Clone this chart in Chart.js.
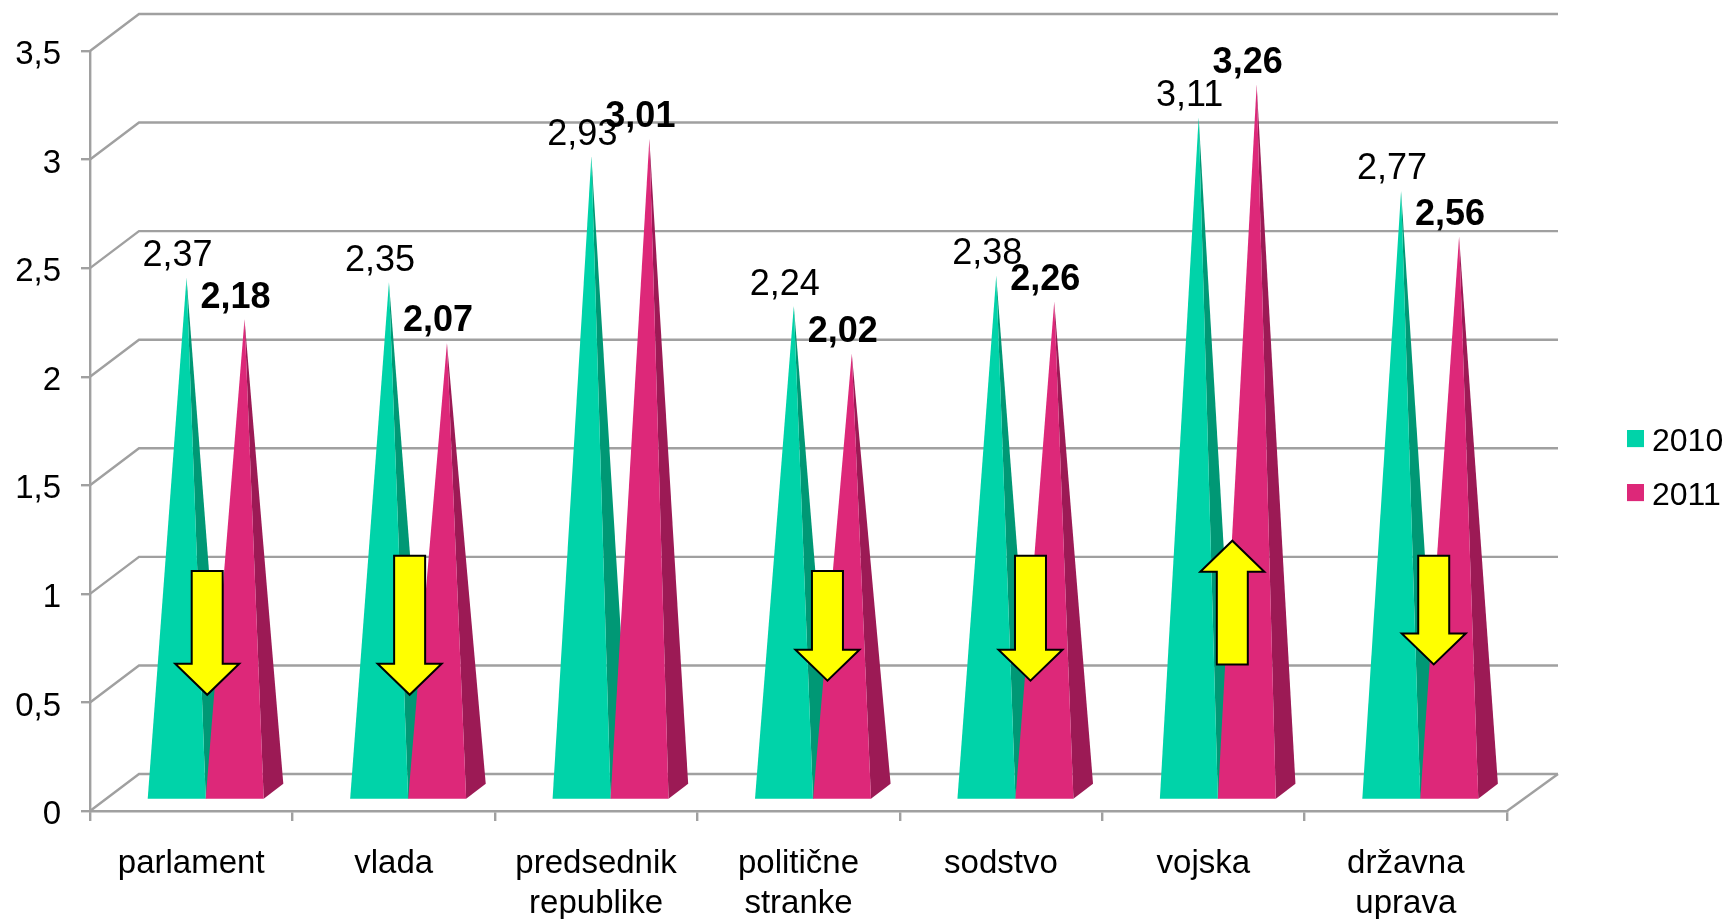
<!DOCTYPE html>
<html><head><meta charset="utf-8">
<style>html,body{margin:0;padding:0;background:#fff;overflow:hidden}canvas{display:block}</style>
<script src="https://cdn.jsdelivr.net/npm/chart.js@4"></script></head>
<body><canvas id="c" width="1728" height="919"></canvas>
<script>
const categories = [["parlament"],["vlada"],["predsednik","republike"],["politične","stranke"],["sodstvo"],["vojska"],["državna","uprava"]];
const values2010 = [2.37,2.35,2.93,2.24,2.38,3.11,2.77];
const values2011 = [2.18,2.07,3.01,2.02,2.26,3.26,2.56];
const seriesNames = ["2010","2011"];
const arrowTail = [1.105,1.175,null,1.105,1.175,0.675,1.175];
const arrowTip  = [0.535,0.535,null,0.6,0.6,1.245,0.675];
const arrowAt   = [0.079,0.079,null,0.143,0.146,0.143,0.138];

const FACE = ["#00d3a9","#dd2879"], SIDE = ["#009875","#9c1a55"];
const GRID = "#a0a0a0", FONT = "'Liberation Sans', Arial, sans-serif";
const DEPTH = {dx:49, dy:-37}, BAR_IN = {dx:14.5, dy:-11}, BAR_D = {dx:19.6, dy:-15};
const fmt = v => String(v).replace(".", ",");

function legendSwatch(color){
  const s = document.createElement("canvas"); s.width = 25; s.height = 25;
  const g = s.getContext("2d"); g.fillStyle = color; g.fillRect(8,0,17,17);
  return s;
}
const poly = (ctx,pts,fill)=>{ctx.beginPath();pts.forEach((p,i)=>i?ctx.lineTo(p[0],p[1]):ctx.moveTo(p[0],p[1]));ctx.closePath();ctx.fillStyle=fill;ctx.fill();};

const scene3d = {
  id:"scene3d",
  beforeLayout(chart){
    const lg = chart.legend;
    if(!lg._w){ const f = lg.fit; lg.fit = function(){ f.call(this); this.width = 221; }; lg._w = true; }
  },
  afterLayout(chart){
    const lg = chart.legend, pad = lg.options.labels.padding;
    lg.left = 1627 - pad; lg.right = 1728; lg.top = 404.6; lg.bottom = 580;
  },
  beforeDatasetsDraw(chart){
    const {ctx, scales:{x,y}} = chart;
    ctx.save(); ctx.strokeStyle = GRID; ctx.lineWidth = 2.4;
    y.ticks.forEach(t=>{
      const py = y.getPixelForValue(t.value);
      ctx.beginPath(); ctx.moveTo(x.left,py); ctx.lineTo(x.left+DEPTH.dx,py+DEPTH.dy);
      ctx.lineTo(x.right+DEPTH.dx+2,py+DEPTH.dy); ctx.stroke();
    });
    const p0 = y.getPixelForValue(0);
    ctx.beginPath(); ctx.moveTo(x.right,p0); ctx.lineTo(x.right+DEPTH.dx+2,p0+DEPTH.dy); ctx.stroke();
    ctx.restore();
  },
  beforeDatasetDraw(){ return false; },
  afterDatasetsDraw(chart){
    const {ctx, scales:{x,y}} = chart;
    chart.data.datasets.forEach((ds,i)=>{
      chart.getDatasetMeta(i).data.forEach(b=>{
        const l = b.x-b.width/2+BAR_IN.dx, r = b.x+b.width/2+BAR_IN.dx, f = b.base+BAR_IN.dy;
        const apex = [(l+r)/2+BAR_D.dx/2, b.y+BAR_IN.dy+BAR_D.dy/2];
        poly(ctx,[[r,f],[r+BAR_D.dx,f+BAR_D.dy],apex],SIDE[i]);
        poly(ctx,[[l,f],[r,f],apex],FACE[i]);
      });
    });
    ctx.save(); ctx.textAlign="center"; ctx.textBaseline="middle"; ctx.fillStyle="#000";
    chart.data.datasets.forEach((ds,i)=>{
      ctx.font = (i? "bold ":"")+"36px "+FONT;
      chart.getDatasetMeta(i).data.forEach((b,k)=>{
        const ax = b.x+BAR_IN.dx+BAR_D.dx/2, ay = b.y+BAR_IN.dy+BAR_D.dy/2;
        ctx.fillText(fmt(ds.data[k]), ax-9, ay-21.5);
      });
    });
    arrowTail.forEach((t,k)=>{
      if(t===null) return;
      const cx = x.getPixelForValue(k+arrowAt[k]), a = y.getPixelForValue(t), b = y.getPixelForValue(arrowTip[k]);
      const s = b>a?1:-1, neck = b-s*31;
      ctx.beginPath();
      [[cx-15.5,a],[cx+15.5,a],[cx+15.5,neck],[cx+32,neck],[cx,b],[cx-32,neck],[cx-15.5,neck]]
        .forEach((p,n)=>n?ctx.lineTo(p[0],p[1]):ctx.moveTo(p[0],p[1]));
      ctx.closePath(); ctx.fillStyle="#ffff00"; ctx.fill();
      ctx.strokeStyle="#000"; ctx.lineWidth=2; ctx.lineJoin="miter"; ctx.stroke();
    });
    ctx.restore();
  }
};

new Chart(document.getElementById("c"),{
  type:"bar",
  data:{labels:categories,datasets:[
    {label:seriesNames[0],data:values2010,backgroundColor:FACE[0]},
    {label:seriesNames[1],data:values2011,backgroundColor:FACE[1]}
  ]},
  plugins:[scene3d],
  options:{
    responsive:false,animation:false,
    layout:{padding:{left:0,right:0,top:51,bottom:0}},
    categoryPercentage:0.573,barPercentage:1,
    plugins:{
      tooltip:{enabled:false},
      legend:{display:true,position:"right",align:"start",labels:{
        color:"#000",font:{family:FONT,size:32},padding:22,usePointStyle:true,pointStyleWidth:9,boxHeight:17,
        generateLabels:ch=>ch.data.datasets.map((d,i)=>({text:d.label,datasetIndex:i,fontColor:"#000",lineWidth:0,pointStyle:legendSwatch(FACE[i])}))
      }}
    },
    scales:{
      x:{
        afterFit:s=>{s.height=108;},
        grid:{display:true,drawOnChartArea:false,color:GRID,lineWidth:2.4,tickLength:10,offset:true},
        border:{color:GRID,width:2.4},
        ticks:{color:"#000",font:{family:FONT,size:33},padding:23.5,maxRotation:0,autoSkip:false}
      },
      y:{
        min:0,max:3.5,
        afterFit:s=>{s.width=90;},
        grid:{display:true,drawOnChartArea:false,color:GRID,lineWidth:2.4,tickLength:9},
        border:{color:GRID,width:2.4},
        ticks:{stepSize:0.5,color:"#000",font:{family:FONT,size:33},padding:20,labelOffset:4,callback:v=>fmt(v)}
      }
    }
  }
});
</script></body></html>
